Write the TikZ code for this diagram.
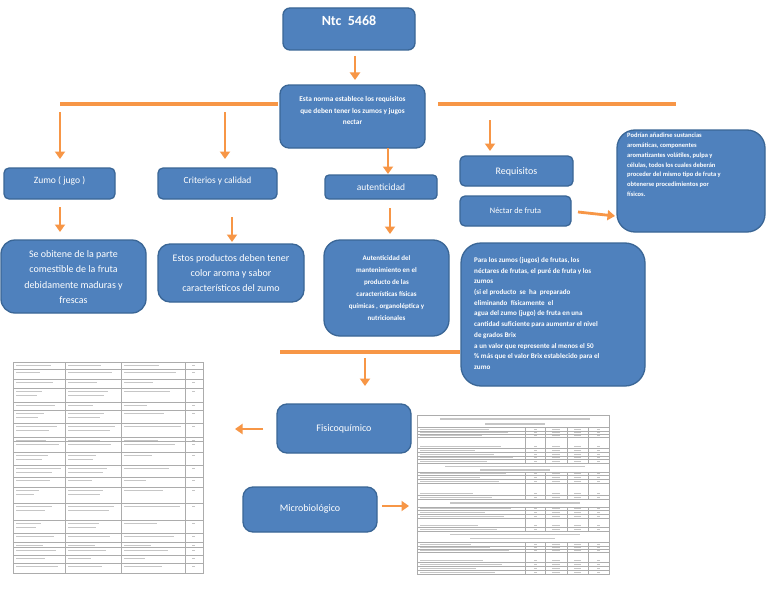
\documentclass[tikz,border=0pt]{standalone}
\usepackage{fontspec}
\setmainfont{Carlito}
\usetikzlibrary{arrows.meta}
\definecolor{boxblue}{HTML}{4F81BD}
\definecolor{boxedge}{HTML}{3A6696}
\definecolor{arrorange}{HTML}{F79646}
\tikzset{
  bluebox/.style={draw=boxedge, line width=1.3pt, fill=boxblue, rounded corners=#1, inner sep=0pt},
  bluebox/.default=6pt,
  wtext/.style={text=white, inner sep=0pt, align=center},
  oarrow/.style={draw=arrorange, line width=2.8pt, -{Triangle[width=10pt,length=7.5pt]}},
  oline/.style={draw=arrorange, line width=4pt},
  tgrid/.style={draw=gray!65, line width=0.4pt},
  ftext/.style={draw=gray!45, line width=1.1pt},
}
\begin{document}
\begin{tikzpicture}[x=1pt,y=-1pt]
\useasboundingbox (0,0) rectangle (768,594);
\fill[white] (0,0) rectangle (768,594);

% ---------- boxes ----------
\node[bluebox=7pt, minimum width=132pt, minimum height=42pt] (ntc) at (349,29) {};
\node[wtext, font=\bfseries\fontsize{14}{16}\selectfont] (ntct) at (349,21) {Ntc\ \ 5468};

\node[bluebox=9pt, minimum width=145pt, minimum height=63pt] (esta) at (352.5,116.5) {};
\node[wtext, font=\bfseries\fontsize{7.3}{11.5}\selectfont] (estat) at (352.5,110.5) {Esta norma establece los requisitos\\que deben tener los zumos y jugos\\nectar};

\node[bluebox=5pt, minimum width=111pt, minimum height=31pt] (zumo) at (59.5,183.5) {};
\node[wtext, font=\fontsize{9.6}{11}\selectfont] (zumot) at (59.5,181) {Zumo ( jugo )};

\node[bluebox=5pt, minimum width=119pt, minimum height=31pt] (crit) at (217.5,183.5) {};
\node[wtext, font=\fontsize{9.4}{11}\selectfont] (critt) at (217.5,181) {Criterios y calidad};

\node[bluebox=4pt, minimum width=112pt, minimum height=24pt] (aut) at (381,187) {};
\node[wtext, font=\fontsize{9.5}{11}\selectfont] (autt) at (381,187.5) {autenticidad};

\node[bluebox=5pt, minimum width=113pt, minimum height=30pt] (req) at (516.5,171) {};
\node[wtext, font=\fontsize{10}{11}\selectfont] (reqt) at (516.5,171.5) {Requisitos};

\node[bluebox=5pt, minimum width=111pt, minimum height=30pt] (nect) at (515.5,211) {};
\node[wtext, font=\fontsize{8.3}{10}\selectfont] (nectt) at (515.5,211) {Néctar de fruta};

\node[bluebox=14pt, minimum width=145pt, minimum height=73pt] (obt) at (73.5,276.5) {};
\node[wtext, font=\fontsize{10}{15.5}\selectfont] (obtt) at (73.5,277) {Se obitene de la parte\\comestible de la fruta\\debidamente maduras y\\frescas};

\node[bluebox=12pt, minimum width=146pt, minimum height=58pt] (est) at (231,273) {};
\node[wtext, font=\fontsize{10}{15}\selectfont] (estt) at (231,273) {Estos productos deben tener\\color aroma y sabor\\característicos del zumo};

\node[bluebox=16pt, minimum width=125pt, minimum height=96pt] (autd) at (386.5,288) {};
\node[wtext, font=\bfseries\fontsize{7}{12}\selectfont] (autdt) at (386.5,288) {Autenticidad del\\mantenimiento en el\\producto de las\\características físicas\\químicas , organoléptica y\\nutricionales};

\node[bluebox=18pt, minimum width=148pt, minimum height=102pt] (pod) at (691,181) {};
\node[wtext, align=left, anchor=north west, font=\bfseries\fontsize{6.5}{9.8}\selectfont] (podt) at (627,133) {Podrían añadirse sustancias\\aromáticas, componentes\\aromatizantes volátiles, pulpa y\\células, todos los cuales deberán\\proceder del mismo tipo de fruta y\\obtenerse procedimientos por\\físicos.};

\node[bluebox=20pt, minimum width=184pt, minimum height=143pt] (para) at (553,314.5) {};
\node[wtext, align=left, anchor=north west, font=\bfseries\fontsize{7.1}{10.7}\selectfont] (parat) at (474,257) {Para los zumos (jugos) de frutas, los\\néctares de frutas, el puré de fruta y los\\zumos\\(si el producto\ \ se\ \ ha\ \ preparado\\eliminando\ \ físicamente\ \ el\\agua del zumo (jugo) de fruta en una\\cantidad suficiente para aumentar el nivel\\de grados Brix\\a un valor que represente al menos el 50\\\% más que el valor Brix establecido para el\\zumo};

\node[bluebox=10pt, minimum width=134pt, minimum height=49pt] (fis) at (344,428.5) {};
\node[wtext, font=\fontsize{10}{11}\selectfont] (fist) at (344,428.5) {Fisicoquímico};

\node[bluebox=10pt, minimum width=134pt, minimum height=45pt] (mic) at (310,509.5) {};
\node[wtext, font=\fontsize{10}{11}\selectfont] (mict) at (310,509) {Microbiológico};

% ---------- connectors ----------
\coordinate (h1a) at (60,104);  \coordinate (h1b) at (278,104);
\coordinate (h2a) at (438,104); \coordinate (h2b) at (676,104);
\coordinate (h3a) at (280,352); \coordinate (h3b) at (460,352);
\draw[oline] (h1a) -- (h1b);
\draw[oline] (h2a) -- (h2b);
\draw[oline] (h3a) -- (h3b);

\coordinate (a0s) at (355,56);  \coordinate (a0e) at (355,80);
\coordinate (a1s) at (60,112);  \coordinate (a1e) at (60,159);
\coordinate (a2s) at (225,112); \coordinate (a2e) at (225,159);
\coordinate (a3s) at (388,148); \coordinate (a3e) at (388,174);
\coordinate (a4s) at (490,120); \coordinate (a4e) at (490,151);
\coordinate (a5s) at (60,207);  \coordinate (a5e) at (60,232);
\coordinate (a6s) at (232,217); \coordinate (a6e) at (232,242);
\coordinate (a7s) at (390,208); \coordinate (a7e) at (390,234);
\coordinate (a8s) at (578,212); \coordinate (a8e) at (615,216);
\coordinate (a9s) at (365,358); \coordinate (a9e) at (365,386);
\coordinate (a10s) at (263,429); \coordinate (a10e) at (235,429);
\coordinate (a11s) at (382,506); \coordinate (a11e) at (409,506);
\foreach \n in {a0,a1,a2,a3,a4,a5,a6,a7,a8,a9,a10,a11}
  \draw[oarrow] (\n s) -- (\n e);

% ---------- left table (image) ----------
\draw[tgrid] (13,362) rectangle (203,573);
\foreach \c in {65,121,185} \draw[tgrid] (\c,362) -- (\c,573);
\foreach \t/\b [count=\i] in {362/369,369/379,379/388,388/402,402/410,410/423,423/437,437/441,441/452,452/465,465/477,477/487,487/503,503/520,520/533,533/542,542/547,547/555,555/563,563/573}{
  \draw[tgrid] (13,\b) -- (203,\b);
  \pgfmathsetmacro\la{22+mod(\i*13,24)}
  \pgfmathsetmacro\lb{22+mod(\i*11,26)}
  \pgfmathsetmacro\lc{18+mod(\i*17,40)}
  \pgfmathtruncatemacro\tall{(\b-\t)>11}
  \draw[ftext] (16,\t+3.3) -- ++(\la,0);
  \draw[ftext] (68,\t+3.3) -- ++(\lb,0);
  \draw[ftext] (124,\t+3.3) -- ++(\lc,0);
  \draw[ftext] (192,\t+3.3) -- ++(3,0);
  \ifnum\tall=1
    \draw[ftext] (16,\t+7.5) -- ++(0.8*\la,0);
    \draw[ftext] (68,\t+7.5) -- ++(0.9*\lb,0);
  \fi
}

% ---------- right table (image) ----------
\draw[tgrid] (417,415) rectangle (609,574);
\foreach \y in {427,463,472,499,507,531,542} \draw[tgrid] (417,\y) -- (609,\y);
% title rows
\draw[ftext] (440,419) -- (590,419);
\draw[ftext] (485,424) -- (545,424);
\draw[ftext] (445,466.5) -- (585,466.5);
\draw[ftext] (480,470) -- (550,470);
\draw[ftext] (450,503) -- (580,503);
\draw[ftext] (450,534.5) -- (580,534.5);
\draw[ftext] (470,538.5) -- (555,538.5);
% data rows
\foreach \t/\b [count=\i] in {427/431,431/434,434/437,437/448,448/452,452/456,456/459,459/463,472/475,475/479,479/483,483/495,495/499,507/510,510/514,514/518,518/527,527/531,542/546,546/549,549/552,552/562,562/566,566/570,570/574}{
  \draw[tgrid] (417,\b) -- (609,\b);
  \foreach \c in {525,545,567,588} \draw[tgrid] (\c,\t) -- (\c,\b);
  \pgfmathsetmacro\m{\b-2}
  \pgfmathsetmacro\la{50+mod(\i*19,45)}
  \draw[ftext, line width=0.9pt] (420,\m) -- ++(\la,0);
  \draw[ftext, line width=0.9pt] (534,\m) -- ++(3,0);
  \draw[ftext, line width=0.9pt] (552,\m) -- ++(8,0);
  \draw[ftext, line width=0.9pt] (574,\m) -- ++(7,0);
  \draw[ftext, line width=0.9pt] (597,\m) -- ++(3,0);
}
\end{tikzpicture}
\end{document}
